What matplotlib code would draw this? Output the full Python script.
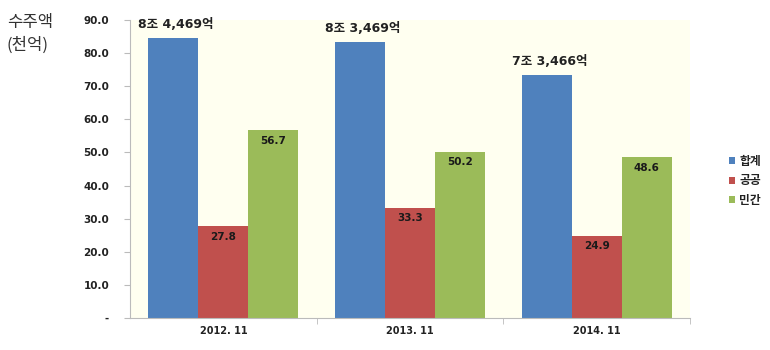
import matplotlib.pyplot as plt
import numpy as np

plt.rcParams['font.family'] = ['DejaVu Sans', 'Noto Sans CJK KR']

periods = ['2012. 11', '2013. 11', '2014. 11']
total = [84.469, 83.469, 73.466]
public = [27.8, 33.3, 24.9]
private = [56.7, 50.2, 48.6]
total_labels = ['8조 4,469억', '8조 3,469억', '7조 3,466억']
series_names = ['합계', '공공', '민간']
colors = ['#4F81BD', '#C0504D', '#9BBB59']

fig = plt.figure(figsize=(7.7, 3.5), dpi=100)
ax = fig.add_axes([130/770, 32/350, 560/770, 298/350])
ax.set_facecolor('#FFFFF0')

x = np.arange(len(periods))
w = 0.268
b1 = ax.bar(x - w, total, w, color=colors[0], label=series_names[0])
b2 = ax.bar(x, public, w, color=colors[1], label=series_names[1])
b3 = ax.bar(x + w, private, w, color=colors[2], label=series_names[2])

for rect, txt in zip(b1, total_labels):
    ax.annotate(txt, (rect.get_x() + rect.get_width()/2, rect.get_height()),
                xytext=(2, 5), textcoords='offset points', ha='center', va='bottom',
                fontsize=9, fontweight='bold', color='#222222')
for bars in (b2, b3):
    for rect in bars:
        ax.annotate('%.1f' % rect.get_height(),
                    (rect.get_x() + rect.get_width()/2, rect.get_height()),
                    xytext=(0, -4), textcoords='offset points', ha='center', va='top',
                    fontsize=7.5, fontweight='bold', color='#1a1a1a')

ax.set_xlim(-0.5, 2.5)
ax.set_ylim(0, 90)
ax.set_yticks(np.arange(0, 91, 10))
ax.set_yticklabels(['-'] + ['%.1f' % v for v in np.arange(10, 91, 10)],
                   fontsize=7.5, fontweight='bold', color='#222222')
ax.set_xticks(x)
ax.set_xticklabels(periods, fontsize=7, fontweight='bold', color='#222222')
ax.tick_params(axis='x', length=0, pad=6)
ax.tick_params(axis='y', length=4, color='#BBBBBB', pad=11)
ax.set_xticks([0.5, 1.5, 2.5], minor=True)
ax.tick_params(axis='x', which='minor', length=4, color='#BBBBBB')

for s in ['top', 'right']:
    ax.spines[s].set_visible(False)
ax.spines['left'].set_color('#BBBBBB')
ax.spines['bottom'].set_color('#BBBBBB')

fig.text(7/770, 1 - 34/350, '수주액\n(천억)', fontsize=12, color='#333333',
         va='center', ha='left', linespacing=1.45,
         family=['Noto Sans CJK KR', 'DejaVu Sans'])

leg = ax.legend(loc='center left', bbox_to_anchor=(1.05, 0.46), frameon=False,
                prop={'family': ['Noto Sans CJK KR'], 'size': 8.5, 'weight': 'bold'},
                handlelength=0.5, handleheight=0.5, handletextpad=0.4,
                labelspacing=0.55)
for t in leg.get_texts():
    t.set_color('#222222')

fig.savefig('out.png', dpi=100)
